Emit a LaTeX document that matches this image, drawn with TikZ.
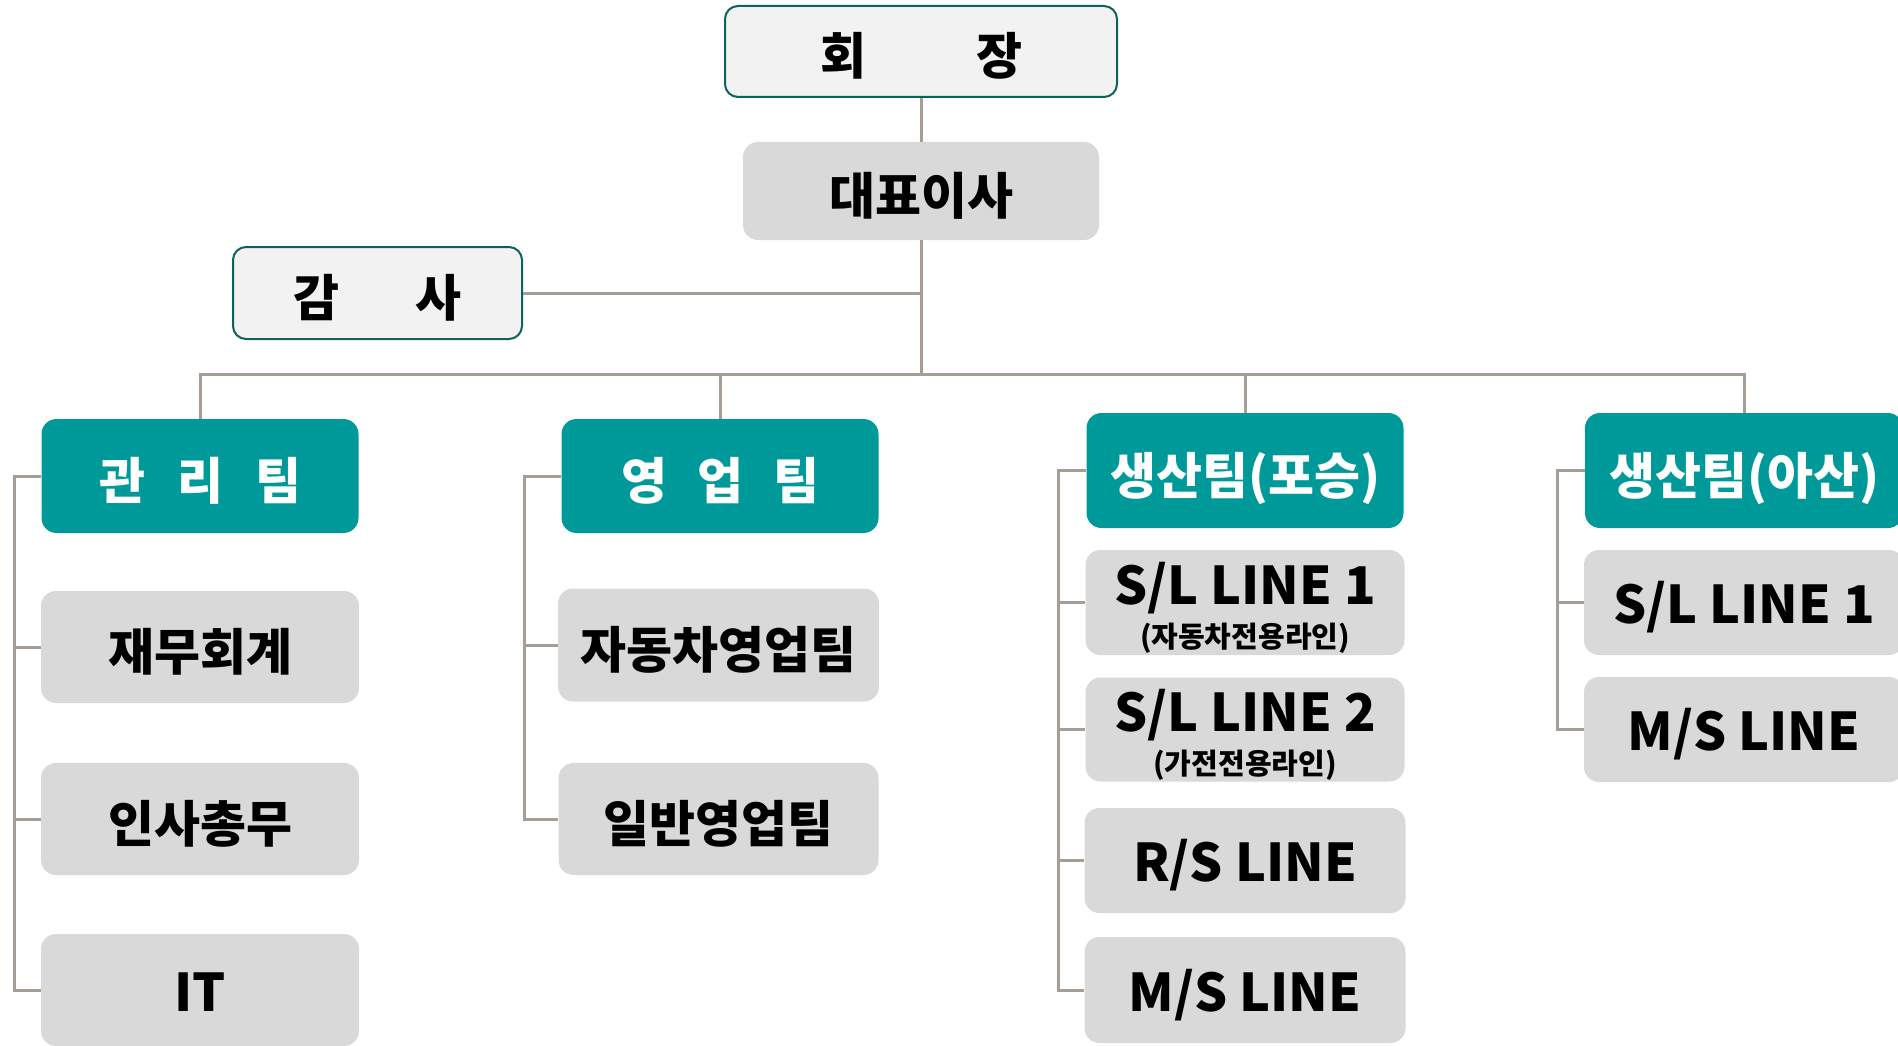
\documentclass[tikz,border=0pt]{standalone}
\usepackage{fontspec}
\setmainfont{Noto Sans CJK KR}
\usepackage{xcolor}

\definecolor{sarcelle}{RGB}{0,153,153}
\definecolor{grisboite}{RGB}{217,217,217}
\definecolor{clair}{RGB}{242,242,242}
\definecolor{bordure}{RGB}{14,98,92}
\definecolor{trait}{RGB}{166,158,148}

\begin{document}
\begin{tikzpicture}[x=1pt,y=-1pt]
% Tailles de texte
\def\Grand{\fontsize{52}{56}\selectfont}
\def\Petit{\fontsize{29}{32}\selectfont}
% Styles
\tikzstyle{cadre}=[draw=bordure,line width=2pt,fill=clair,rounded corners=13pt,inner sep=0pt,text height=52pt,text depth=5pt,font=\bfseries\fontsize{50}{54}\selectfont]
\tikzstyle{equipe}=[fill=sarcelle,text=white,rounded corners=15pt,inner sep=0pt,minimum width=317pt,minimum height=114pt,text height=52pt,text depth=5pt,font=\bfseries\fontsize{50}{54}\selectfont]
\tikzstyle{service}=[fill=grisboite,rounded corners=15pt,inner sep=0pt,minimum width=318pt,minimum height=112pt,text height=52pt,text depth=5pt,font=\bfseries\fontsize{50}{54}\selectfont]
\tikzstyle{ligne}=[service,text height=47pt,text depth=5pt,font=\bfseries\Grand]
\tikzstyle{double}=[ligne,align=center,text height=94pt,text depth=5pt]
\tikzstyle{liaison}=[draw=trait,line width=3pt]
% Niveaux et colonnes
\def\NiveauA{51.5}
\def\NiveauB{191}
\def\NiveauAudit{293}
\def\NiveauBus{374}
\def\NiveauEquipe{476}
\def\ColCentre{921}
\def\ColGestion{200}
\def\ColVente{720}
\def\ColPoseung{1245}
\def\ColAsan{1744}
% Cadre de la page
\useasboundingbox (0,0) rectangle (1898,1046);
% Direction
\node[cadre,minimum width=392pt,minimum height=91pt] (Hoejang) at (\ColCentre,\NiveauA) {회\hspace{110pt}장};
\node[service,minimum width=356pt,minimum height=98pt] (Daepyo) at (\ColCentre,\NiveauB) {대표이사};
\node[cadre,minimum width=289pt,minimum height=92pt] (Gamsa) at (377.5,\NiveauAudit) {감\hspace{76pt}사};
\coordinate (Bus) at (\ColCentre,\NiveauBus);
% Equipes
\node[equipe] (Gwanri) at (\ColGestion,\NiveauEquipe) {관\hspace{32pt}리\hspace{32pt}팀};
\node[equipe] (Yeongeop) at (\ColVente,\NiveauEquipe) {영\hspace{30pt}업\hspace{30pt}팀};
\node[equipe,minimum height=115pt] (Poseung) at (\ColPoseung,470.5) {생산팀(포승)};
\node[equipe,minimum width=318pt,minimum height=115pt] (Asan) at (\ColAsan,470.5) {생산팀(아산)};
% Services : gestion
\node[service] (Jaemu) at (\ColGestion,647) {재무회계};
\node[service] (Insa) at (\ColGestion,819) {인사총무};
\node[ligne] (It) at (\ColGestion,990) {IT};
% Services : vente
\node[service,minimum width=321pt,minimum height=113pt] (Jadongcha) at (718.5,645) {자동차영업팀};
\node[service,minimum width=320pt] (Ilban) at (718.5,819) {일반영업팀};
% Services : Poseung
\node[double,minimum width=319pt,minimum height=105pt] (PoSL1) at (\ColPoseung,602.5) {S/L LINE 1\\[-13pt]\Petit(자동차전용라인)};
\node[double,minimum width=319pt,minimum height=104pt] (PoSL2) at (\ColPoseung,729.5) {S/L LINE 2\\[-13pt]\Petit(가전전용라인)};
\node[ligne,minimum width=321pt,minimum height=105pt] (PoRS) at (\ColPoseung,860.5) {R/S LINE};
\node[ligne,minimum width=321pt,minimum height=106pt] (PoMS) at (\ColPoseung,990) {M/S LINE};
% Services : Asan
\node[ligne,minimum width=320pt,minimum height=105pt] (AsSL1) at (\ColAsan,602.5) {S/L LINE 1};
\node[ligne,minimum width=320pt,minimum height=105pt] (AsMS) at (\ColAsan,729.5) {M/S LINE};
% Axes verticaux des equipes
\coordinate (AxeGestion) at (14.5,\NiveauBus);
\coordinate (AxeVente) at (524,\NiveauBus);
\coordinate (AxePoseung) at (1058,\NiveauBus);
\coordinate (AxeAsan) at (1557,\NiveauBus);
% Liaisons
\draw[liaison] (Hoejang) -- (Daepyo);
\draw[liaison] (Daepyo) -- (Bus);
\draw[liaison] (Gamsa) -- (Gamsa -| Bus);
\draw[liaison] (Gwanri) -- (Gwanri |- Bus) -- (Asan |- Bus) -- (Asan);
\draw[liaison] (Yeongeop) -- (Yeongeop |- Bus);
\draw[liaison] (Poseung) -- (Poseung |- Bus);
\draw[liaison] (Gwanri.west) -- (Gwanri.west -| AxeGestion) |- (It.west);
\draw[liaison] (Jaemu.west -| AxeGestion) -- (Jaemu.west);
\draw[liaison] (Insa.west -| AxeGestion) -- (Insa.west);
\draw[liaison] (Yeongeop.west) -- (Yeongeop.west -| AxeVente) |- (Ilban.west);
\draw[liaison] (Jadongcha.west -| AxeVente) -- (Jadongcha.west);
\draw[liaison] (Poseung.west) -- (Poseung.west -| AxePoseung) |- (PoMS.west);
\draw[liaison] (PoSL1.west -| AxePoseung) -- (PoSL1.west);
\draw[liaison] (PoSL2.west -| AxePoseung) -- (PoSL2.west);
\draw[liaison] (PoRS.west -| AxePoseung) -- (PoRS.west);
\draw[liaison] (Asan.west) -- (Asan.west -| AxeAsan) |- (AsMS.west);
\draw[liaison] (AsSL1.west -| AxeAsan) -- (AsSL1.west);
\end{tikzpicture}
\end{document}
